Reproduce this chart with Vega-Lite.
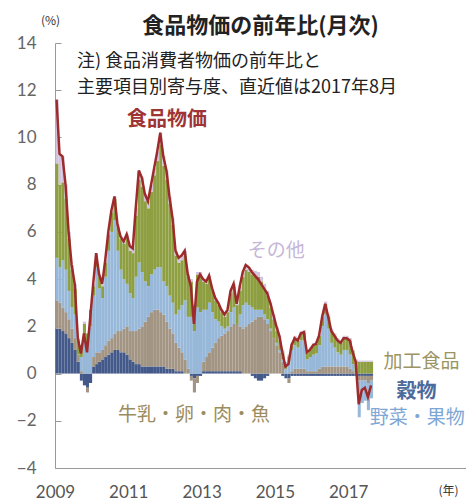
{
  "$schema": "https://vega.github.io/schema/vega-lite/v6.json",
  "width": 411,
  "height": 425,
  "autosize": {"type": "none"},
  "padding": {"left": 55, "top": 43, "right": 0, "bottom": 36},
  "background": "white",
  "config": {"view": {"stroke": null}, "font": "Noto Sans CJK JP"},
  "title": {"text": "食品物価の前年比(月次)", "frame": "group", "anchor": "middle", "fontSize": 22, "fontWeight": "bold", "color": "#222", "offset": -24, "font": "Noto Sans CJK JP"},
  "datasets": {
    "cpi": [
      {"m":"2009-01-01","cereal":1.9,"dairy":1.2,"fruitveg":1.8,"processed":4.0,"rest":2.7,"total":11.6},
      {"m":"2009-02-01","cereal":1.9,"dairy":1.1,"fruitveg":1.5,"processed":3.5,"rest":1.3,"total":9.3},
      {"m":"2009-03-01","cereal":1.8,"dairy":1.0,"fruitveg":2.0,"processed":3.3,"rest":1.1,"total":9.2},
      {"m":"2009-04-01","cereal":1.7,"dairy":0.9,"fruitveg":1.8,"processed":3.0,"rest":0.6,"total":8.0},
      {"m":"2009-05-01","cereal":1.5,"dairy":0.8,"fruitveg":1.2,"processed":2.2,"rest":0.3,"total":6.0},
      {"m":"2009-06-01","cereal":1.3,"dairy":0.6,"fruitveg":0.9,"processed":1.6,"rest":0.2,"total":4.6},
      {"m":"2009-07-01","cereal":1.0,"dairy":0.5,"fruitveg":1.0,"processed":1.1,"rest":0.2,"total":3.8},
      {"m":"2009-08-01","cereal":0.5,"dairy":0.3,"fruitveg":0.0,"processed":0.6,"rest":0.1,"total":1.5},
      {"m":"2009-09-01","cereal":-0.3,"dairy":0.1,"fruitveg":0.6,"processed":0.5,"rest":0.0,"total":0.85},
      {"m":"2009-10-01","cereal":-0.5,"dairy":0.0,"fruitveg":1.6,"processed":0.5,"rest":0.1,"total":1.7},
      {"m":"2009-11-01","cereal":-0.6,"dairy":-0.2,"fruitveg":1.3,"processed":0.4,"rest":0.0,"total":0.9},
      {"m":"2009-12-01","cereal":-0.4,"dairy":0.0,"fruitveg":2.0,"processed":0.7,"rest":0.0,"total":2.3},
      {"m":"2010-01-01","cereal":0.3,"dairy":0.4,"fruitveg":2.6,"processed":0.4,"rest":0.1,"total":3.8},
      {"m":"2010-02-01","cereal":0.4,"dairy":0.5,"fruitveg":3.6,"processed":0.5,"rest":0.1,"total":5.1},
      {"m":"2010-03-01","cereal":0.5,"dairy":0.4,"fruitveg":2.7,"processed":0.5,"rest":0.1,"total":4.2},
      {"m":"2010-04-01","cereal":0.6,"dairy":0.4,"fruitveg":2.2,"processed":0.5,"rest":0.1,"total":3.8},
      {"m":"2010-05-01","cereal":0.7,"dairy":0.5,"fruitveg":2.9,"processed":0.6,"rest":0.1,"total":4.8},
      {"m":"2010-06-01","cereal":0.8,"dairy":0.6,"fruitveg":3.8,"processed":0.7,"rest":0.1,"total":6.0},
      {"m":"2010-07-01","cereal":0.9,"dairy":0.6,"fruitveg":4.5,"processed":0.8,"rest":0.1,"total":6.9},
      {"m":"2010-08-01","cereal":1.0,"dairy":0.7,"fruitveg":4.8,"processed":0.9,"rest":0.1,"total":7.5},
      {"m":"2010-09-01","cereal":1.0,"dairy":0.8,"fruitveg":3.4,"processed":1.0,"rest":0.1,"total":6.3},
      {"m":"2010-10-01","cereal":0.9,"dairy":0.9,"fruitveg":2.6,"processed":1.3,"rest":0.1,"total":5.8},
      {"m":"2010-11-01","cereal":0.9,"dairy":1.0,"fruitveg":2.1,"processed":1.5,"rest":0.1,"total":5.6},
      {"m":"2010-12-01","cereal":0.8,"dairy":1.2,"fruitveg":1.8,"processed":1.9,"rest":0.2,"total":5.9},
      {"m":"2011-01-01","cereal":0.6,"dairy":1.2,"fruitveg":1.6,"processed":1.8,"rest":0.2,"total":5.4},
      {"m":"2011-02-01","cereal":0.5,"dairy":1.3,"fruitveg":1.4,"processed":1.9,"rest":0.2,"total":5.3},
      {"m":"2011-03-01","cereal":0.4,"dairy":1.4,"fruitveg":2.3,"processed":2.6,"rest":0.3,"total":7.0},
      {"m":"2011-04-01","cereal":0.4,"dairy":1.5,"fruitveg":2.8,"processed":3.5,"rest":0.4,"total":8.6},
      {"m":"2011-05-01","cereal":0.3,"dairy":1.7,"fruitveg":2.3,"processed":3.6,"rest":0.4,"total":8.3},
      {"m":"2011-06-01","cereal":0.3,"dairy":1.9,"fruitveg":1.7,"processed":3.4,"rest":0.3,"total":7.6},
      {"m":"2011-07-01","cereal":0.3,"dairy":2.1,"fruitveg":1.3,"processed":3.3,"rest":0.3,"total":7.3},
      {"m":"2011-08-01","cereal":0.3,"dairy":2.3,"fruitveg":1.6,"processed":3.5,"rest":0.3,"total":8.0},
      {"m":"2011-09-01","cereal":0.3,"dairy":2.4,"fruitveg":1.7,"processed":4.0,"rest":0.3,"total":8.7},
      {"m":"2011-10-01","cereal":0.3,"dairy":2.4,"fruitveg":1.8,"processed":4.5,"rest":0.4,"total":9.4},
      {"m":"2011-11-01","cereal":0.3,"dairy":2.3,"fruitveg":1.9,"processed":5.2,"rest":0.5,"total":10.2},
      {"m":"2011-12-01","cereal":0.3,"dairy":2.2,"fruitveg":1.4,"processed":4.9,"rest":0.4,"total":9.2},
      {"m":"2012-01-01","cereal":0.2,"dairy":2.0,"fruitveg":1.5,"processed":4.5,"rest":0.4,"total":8.6},
      {"m":"2012-02-01","cereal":0.2,"dairy":1.7,"fruitveg":1.4,"processed":3.9,"rest":0.3,"total":7.5},
      {"m":"2012-03-01","cereal":0.2,"dairy":1.5,"fruitveg":1.3,"processed":3.3,"rest":0.3,"total":6.6},
      {"m":"2012-04-01","cereal":0.1,"dairy":1.2,"fruitveg":1.2,"processed":2.5,"rest":0.2,"total":5.2},
      {"m":"2012-05-01","cereal":0.1,"dairy":1.0,"fruitveg":1.6,"processed":2.0,"rest":0.2,"total":4.9},
      {"m":"2012-06-01","cereal":0.1,"dairy":0.8,"fruitveg":2.0,"processed":1.9,"rest":0.2,"total":5.0},
      {"m":"2012-07-01","cereal":0.0,"dairy":0.6,"fruitveg":2.5,"processed":1.9,"rest":0.2,"total":5.2},
      {"m":"2012-08-01","cereal":0.0,"dairy":0.2,"fruitveg":2.2,"processed":1.7,"rest":0.1,"total":4.2},
      {"m":"2012-09-01","cereal":-0.1,"dairy":-0.2,"fruitveg":2.4,"processed":1.5,"rest":0.1,"total":3.7},
      {"m":"2012-10-01","cereal":-0.2,"dairy":-0.6,"fruitveg":1.8,"processed":1.0,"rest":0.1,"total":2.1},
      {"m":"2012-11-01","cereal":-0.1,"dairy":-0.3,"fruitveg":2.8,"processed":1.4,"rest":0.1,"total":3.9},
      {"m":"2012-12-01","cereal":-0.1,"dairy":0.0,"fruitveg":2.6,"processed":1.5,"rest":0.2,"total":4.2},
      {"m":"2013-01-01","cereal":0.1,"dairy":0.4,"fruitveg":2.2,"processed":1.2,"rest":0.1,"total":4.0},
      {"m":"2013-02-01","cereal":0.1,"dairy":0.6,"fruitveg":2.0,"processed":1.1,"rest":0.1,"total":3.9},
      {"m":"2013-03-01","cereal":0.1,"dairy":0.8,"fruitveg":2.1,"processed":1.0,"rest":0.15,"total":4.15},
      {"m":"2013-04-01","cereal":0.1,"dairy":1.0,"fruitveg":1.5,"processed":0.9,"rest":0.1,"total":3.6},
      {"m":"2013-05-01","cereal":0.1,"dairy":1.2,"fruitveg":1.0,"processed":0.8,"rest":0.1,"total":3.2},
      {"m":"2013-06-01","cereal":0.1,"dairy":1.4,"fruitveg":0.7,"processed":0.7,"rest":0.1,"total":3.0},
      {"m":"2013-07-01","cereal":0.1,"dairy":1.5,"fruitveg":0.4,"processed":0.6,"rest":0.1,"total":2.7},
      {"m":"2013-08-01","cereal":0.1,"dairy":1.6,"fruitveg":0.2,"processed":0.5,"rest":0.1,"total":2.5},
      {"m":"2013-09-01","cereal":0.1,"dairy":1.7,"fruitveg":0.2,"processed":0.6,"rest":0.1,"total":2.7},
      {"m":"2013-10-01","cereal":0.1,"dairy":1.9,"fruitveg":0.6,"processed":0.8,"rest":0.1,"total":3.5},
      {"m":"2013-11-01","cereal":0.1,"dairy":2.0,"fruitveg":0.7,"processed":0.9,"rest":0.1,"total":3.8},
      {"m":"2013-12-01","cereal":0.1,"dairy":2.0,"fruitveg":0.0,"processed":0.8,"rest":0.05,"total":2.95},
      {"m":"2014-01-01","cereal":0.1,"dairy":1.9,"fruitveg":0.5,"processed":1.0,"rest":0.2,"total":3.7},
      {"m":"2014-02-01","cereal":0.0,"dairy":1.9,"fruitveg":1.0,"processed":1.2,"rest":0.2,"total":4.3},
      {"m":"2014-03-01","cereal":0.0,"dairy":2.0,"fruitveg":1.0,"processed":1.4,"rest":0.2,"total":4.6},
      {"m":"2014-04-01","cereal":0.0,"dairy":2.1,"fruitveg":0.8,"processed":1.4,"rest":0.2,"total":4.5},
      {"m":"2014-05-01","cereal":-0.1,"dairy":2.2,"fruitveg":0.6,"processed":1.4,"rest":0.2,"total":4.3},
      {"m":"2014-06-01","cereal":-0.2,"dairy":2.3,"fruitveg":0.4,"processed":1.4,"rest":0.25,"total":4.15},
      {"m":"2014-07-01","cereal":-0.3,"dairy":2.4,"fruitveg":0.3,"processed":1.4,"rest":0.2,"total":4.0},
      {"m":"2014-08-01","cereal":-0.3,"dairy":2.4,"fruitveg":0.3,"processed":1.2,"rest":0.2,"total":3.8},
      {"m":"2014-09-01","cereal":-0.2,"dairy":2.3,"fruitveg":0.2,"processed":1.1,"rest":0.2,"total":3.6},
      {"m":"2014-10-01","cereal":-0.1,"dairy":2.1,"fruitveg":0.2,"processed":1.0,"rest":0.2,"total":3.4},
      {"m":"2014-11-01","cereal":0.0,"dairy":1.8,"fruitveg":0.1,"processed":0.9,"rest":0.2,"total":3.0},
      {"m":"2014-12-01","cereal":0.0,"dairy":1.5,"fruitveg":0.0,"processed":0.8,"rest":0.2,"total":2.5},
      {"m":"2015-01-01","cereal":0.0,"dairy":1.2,"fruitveg":0.1,"processed":0.5,"rest":0.2,"total":2.0},
      {"m":"2015-02-01","cereal":0.0,"dairy":0.9,"fruitveg":0.1,"processed":0.4,"rest":0.2,"total":1.6},
      {"m":"2015-03-01","cereal":-0.1,"dairy":0.5,"fruitveg":0.1,"processed":0.3,"rest":0.1,"total":0.9},
      {"m":"2015-04-01","cereal":-0.2,"dairy":0.0,"fruitveg":0.2,"processed":0.2,"rest":0.1,"total":0.3},
      {"m":"2015-05-01","cereal":-0.2,"dairy":-0.2,"fruitveg":0.5,"processed":0.2,"rest":0.1,"total":0.4},
      {"m":"2015-06-01","cereal":-0.1,"dairy":0.1,"fruitveg":0.9,"processed":0.2,"rest":0.1,"total":1.2},
      {"m":"2015-07-01","cereal":-0.1,"dairy":0.2,"fruitveg":1.0,"processed":0.3,"rest":0.1,"total":1.5},
      {"m":"2015-08-01","cereal":-0.1,"dairy":0.2,"fruitveg":0.9,"processed":0.3,"rest":0.1,"total":1.4},
      {"m":"2015-09-01","cereal":-0.1,"dairy":0.2,"fruitveg":1.2,"processed":0.3,"rest":0.1,"total":1.7},
      {"m":"2015-10-01","cereal":-0.1,"dairy":0.2,"fruitveg":1.2,"processed":0.35,"rest":0.1,"total":1.75},
      {"m":"2015-11-01","cereal":-0.1,"dairy":0.1,"fruitveg":0.5,"processed":0.3,"rest":0.1,"total":0.9},
      {"m":"2015-12-01","cereal":-0.1,"dairy":0.1,"fruitveg":0.6,"processed":0.3,"rest":0.1,"total":1.0},
      {"m":"2016-01-01","cereal":-0.1,"dairy":0.1,"fruitveg":0.7,"processed":0.4,"rest":0.1,"total":1.2},
      {"m":"2016-02-01","cereal":-0.1,"dairy":0.1,"fruitveg":0.75,"processed":0.4,"rest":0.1,"total":1.26},
      {"m":"2016-03-01","cereal":-0.1,"dairy":0.2,"fruitveg":1.0,"processed":0.4,"rest":0.1,"total":1.6},
      {"m":"2016-04-01","cereal":-0.1,"dairy":0.3,"fruitveg":1.7,"processed":0.4,"rest":0.1,"total":2.4},
      {"m":"2016-05-01","cereal":-0.1,"dairy":0.3,"fruitveg":2.2,"processed":0.45,"rest":0.1,"total":2.95},
      {"m":"2016-06-01","cereal":-0.1,"dairy":0.3,"fruitveg":1.6,"processed":0.5,"rest":0.1,"total":2.4},
      {"m":"2016-07-01","cereal":-0.1,"dairy":0.3,"fruitveg":1.0,"processed":0.5,"rest":0.1,"total":1.8},
      {"m":"2016-08-01","cereal":-0.1,"dairy":0.3,"fruitveg":0.8,"processed":0.5,"rest":0.1,"total":1.6},
      {"m":"2016-09-01","cereal":-0.1,"dairy":0.3,"fruitveg":0.6,"processed":0.5,"rest":0.1,"total":1.4},
      {"m":"2016-10-01","cereal":-0.1,"dairy":0.3,"fruitveg":0.5,"processed":0.5,"rest":0.1,"total":1.3},
      {"m":"2016-11-01","cereal":-0.1,"dairy":0.3,"fruitveg":0.7,"processed":0.5,"rest":0.1,"total":1.5},
      {"m":"2016-12-01","cereal":-0.1,"dairy":0.3,"fruitveg":0.7,"processed":0.5,"rest":0.1,"total":1.5},
      {"m":"2017-01-01","cereal":-0.1,"dairy":0.2,"fruitveg":0.6,"processed":0.6,"rest":0.1,"total":1.4},
      {"m":"2017-02-01","cereal":-0.1,"dairy":0.1,"fruitveg":0.3,"processed":0.55,"rest":0.05,"total":0.9},
      {"m":"2017-03-01","cereal":-0.1,"dairy":0.0,"fruitveg":0.05,"processed":0.5,"rest":0.05,"total":0.5},
      {"m":"2017-04-01","cereal":-0.1,"dairy":-0.2,"fruitveg":-1.55,"processed":0.5,"rest":0.05,"total":-1.3},
      {"m":"2017-05-01","cereal":-0.1,"dairy":-0.2,"fruitveg":-0.95,"processed":0.5,"rest":0.05,"total":-0.7},
      {"m":"2017-06-01","cereal":-0.1,"dairy":-0.2,"fruitveg":-0.85,"processed":0.5,"rest":0.05,"total":-0.6},
      {"m":"2017-07-01","cereal":-0.1,"dairy":-0.3,"fruitveg":-1.15,"processed":0.5,"rest":0.05,"total":-1.0},
      {"m":"2017-08-01","cereal":-0.1,"dairy":-0.2,"fruitveg":-0.75,"processed":0.5,"rest":0.05,"total":-0.5}
    ],
    "labels": [
      {"name":"食品物価","d":"2012-01-23","v":10.76},
      {"name":"その他","d":"2015-01-15","v":5.2},
      {"name":"加工食品","d":"2019-01-01","v":0.47},
      {"name":"穀物","d":"2018-11-12","v":-0.76},
      {"name":"野菜・果物","d":"2018-11-20","v":-1.9},
      {"name":"牛乳・卵・肉・魚","d":"2012-10-18","v":-1.74}
    ],
    "notes": [
      {"line":"注) 食品消費者物価の前年比と","d":"2009-08-08","v":13.18},
      {"line":"主要項目別寄与度、直近値は2017年8月","d":"2009-08-08","v":12.1}
    ]
  },
  "layer": [
    {
      "data": {"name": "cpi"},
      "transform": [{"fold": ["cereal","dairy","fruitveg","processed","rest"], "as": ["series","value"]}],
      "mark": {"type": "bar", "binSpacing": 0},
      "encoding": {
        "x": {"field": "m", "type": "temporal", "timeUnit": "utcyearmonth",
          "scale": {"type": "utc", "domain": [{"year":2009,"month":1,"date":1,"utc":true},{"year":2020,"month":3,"date":20,"utc":true}]},
          "axis": {"title": "(年)", "values": [{"year":2009,"month":1,"date":1,"utc":true},{"year":2011,"month":1,"date":1,"utc":true},{"year":2013,"month":1,"date":1,"utc":true},{"year":2015,"month":1,"date":1,"utc":true},{"year":2017,"month":1,"date":1,"utc":true}],
            "format": "%Y", "ticks": false, "grid": false, "labelFlush": false, "labelOverlap": false, "labelPadding": 16,
            "labelFontSize": 17, "labelFont": "Lato", "labelColor": "#555", "domainColor": "#999",
            "titleX": 393, "titleY": 22, "titleFontSize": 12, "titleFontWeight": "normal", "titleColor": "#333", "titleAlign": "center", "titleBaseline": "middle", "titleFont": "Noto Sans CJK JP"}},
        "y": {"field": "value", "type": "quantitative", "stack": "zero",
          "scale": {"domain": [-4, 14], "nice": false, "zero": false},
          "axis": {"title": "(%)", "values": [-4,-2,0,2,4,6,8,10,12,14], "grid": false, "tickSize": -6, "tickColor": "#999", "labelPadding": 25,
            "labelFontSize": 17, "labelFont": "Lato", "labelColor": "#666", "domainColor": "#999",
            "titleAngle": 0, "titleX": -5, "titleY": -23, "titleFontSize": 12, "titleFontWeight": "normal", "titleColor": "#333", "titleAlign": "center", "titleBaseline": "middle", "titleFont": "Noto Sans CJK JP"}},
        "color": {"field": "series", "type": "nominal", "legend": null,
          "scale": {"domain": ["cereal","dairy","fruitveg","processed","rest"], "range": ["#43598A","#A39583","#98B8DA","#8E9F42","#D2C3DE"]}},
        "order": {"field": "series", "sort": "ascending"}
      }
    },
    {
      "mark": {"type": "rule", "color": "#999", "strokeWidth": 1},
      "encoding": {"y": {"datum": 0}}
    },
    {
      "mark": {"type": "rule", "color": "#aaa", "strokeWidth": 1},
      "encoding": {"y": {"datum": 14}}
    },
    {
      "data": {"name": "cpi"},
      "mark": {"type": "line", "color": "#9E2B2B", "strokeWidth": 2.5},
      "encoding": {
        "x": {"field": "m", "type": "temporal", "timeUnit": "utcyearmonth", "bandPosition": 0.5},
        "y": {"field": "total", "type": "quantitative"}
      }
    },
    {
      "data": {"name": "notes"},
      "mark": {"type": "text", "align": "left", "baseline": "middle", "fontSize": 18, "color": "#222", "font": "Noto Sans CJK JP"},
      "encoding": {
        "x": {"field": "d", "type": "temporal", "timeUnit": "utcyearmonthdate"},
        "y": {"field": "v", "type": "quantitative"},
        "text": {"field": "line"}
      }
    },
    {
      "data": {"name": "labels"},
      "transform": [{"filter": "datum.name === '食品物価' || datum.name === '穀物'"}],
      "mark": {"type": "text", "align": "center", "baseline": "middle", "fontSize": 20, "fontWeight": "bold", "font": "Noto Sans CJK JP"},
      "encoding": {
        "x": {"field": "d", "type": "temporal", "timeUnit": "utcyearmonthdate"},
        "y": {"field": "v", "type": "quantitative"},
        "text": {"field": "name"},
        "color": {"field": "name", "type": "nominal", "legend": null,
          "scale": {"domain": ["食品物価","その他","加工食品","穀物","野菜・果物","牛乳・卵・肉・魚"], "range": ["#9E3434","#C6B6D8","#9C9463","#4D6A9C","#7EA7D6","#9C8C60"]}}
      }
    },
    {
      "data": {"name": "labels"},
      "transform": [{"filter": "datum.name !== '食品物価' && datum.name !== '穀物'"}],
      "mark": {"type": "text", "align": "center", "baseline": "middle", "fontSize": 19, "font": "Noto Sans CJK JP"},
      "encoding": {
        "x": {"field": "d", "type": "temporal", "timeUnit": "utcyearmonthdate"},
        "y": {"field": "v", "type": "quantitative"},
        "text": {"field": "name"},
        "color": {"field": "name", "type": "nominal", "legend": null,
          "scale": {"domain": ["食品物価","その他","加工食品","穀物","野菜・果物","牛乳・卵・肉・魚"], "range": ["#9E3434","#C6B6D8","#9C9463","#4D6A9C","#7EA7D6","#9C8C60"]}}
      }
    }
  ],
  "resolve": {"scale": {"color": "independent"}}
}
